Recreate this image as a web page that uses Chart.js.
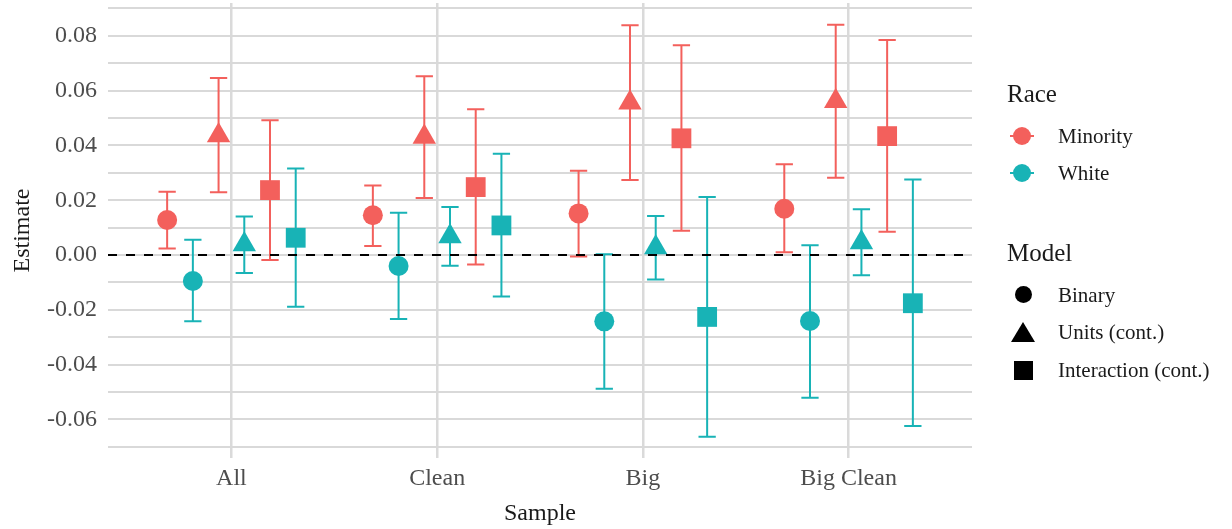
<!DOCTYPE html>
<html>
<head>
<meta charset="utf-8">
<script src="https://cdn.jsdelivr.net/npm/chart.js@4.4.1/dist/chart.umd.min.js"></script>
<style>
  body { margin: 0; background: #fff; }
  #wrap { position: relative; width: 1232px; height: 529px; font-family: 'Liberation Serif', serif; }
  #legend { position: absolute; left: 1005px; top: 0; width: 227px; color: #1a1a1a; }
  .ltitle { position: absolute; left: 2px; font-size: 25px; line-height: 25px; }
  .litem { position: absolute; left: 0; height: 30px; width: 225px; }
  .litem span { position: absolute; left: 53px; top: 0; font-size: 21px; line-height: 30px; white-space: nowrap; }
  .sym { position: absolute; }
  .bar { position: absolute; left: 5px; top: 14px; width: 24px; height: 2px; }
  .dot { position: absolute; left: 8px; top: 6px; width: 18px; height: 18px; border-radius: 50%; }
</style>
</head>
<body>
<div id="wrap">
  <canvas id="myChart" width="1232" height="529"></canvas>
  <div id="legend">
    <div class="ltitle" style="top:81px">Race</div>
    <div class="litem" style="top:121px"><div class="bar" style="background:#f3605c"></div><div class="dot" style="background:#f3605c"></div><span>Minority</span></div>
    <div class="litem" style="top:158px"><div class="bar" style="background:#18b3b6"></div><div class="dot" style="background:#18b3b6"></div><span>White</span></div>
    <div class="ltitle" style="top:240px">Model</div>
    <div class="litem" style="top:280px"><div class="dot" style="background:#000;left:10px;width:17px;height:17px"></div><span>Binary</span></div>
    <div class="litem" style="top:317px"><div class="sym" style="left:6px;top:5px;width:0;height:0;border-left:12px solid transparent;border-right:12px solid transparent;border-bottom:20px solid #000"></div><span>Units (cont.)</span></div>
    <div class="litem" style="top:355px"><div class="sym" style="left:9px;top:6px;width:19px;height:19px;background:#000"></div><span>Interaction (cont.)</span></div>
  </div>
</div>
<script>
// samples on the x axis
var samples = ['All', 'Clean', 'Big', 'Big Clean'];

// estimates and 95% intervals, one array per race x model
var minorityBinary   = [0.0128, 0.0145, 0.0152, 0.0169];
var minorityBinaryLo = [0.0024, 0.0033, -0.0005, 0.0010];
var minorityBinaryHi = [0.0231, 0.0254, 0.0308, 0.0331];

var whiteBinary   = [-0.0095, -0.0040, -0.0242, -0.0241];
var whiteBinaryLo = [-0.0242, -0.0234, -0.0488, -0.0521];
var whiteBinaryHi = [0.0056, 0.0154, 0.0003, 0.0036];

var minorityUnits   = [0.0436, 0.0431, 0.0556, 0.0561];
var minorityUnitsLo = [0.0229, 0.0208, 0.0274, 0.0282];
var minorityUnitsHi = [0.0646, 0.0653, 0.0839, 0.0841];

var whiteUnits   = [0.0038, 0.0068, 0.0027, 0.0046];
var whiteUnitsLo = [-0.0066, -0.0039, -0.0089, -0.0074];
var whiteUnitsHi = [0.0141, 0.0175, 0.0142, 0.0167];

var minorityInteraction   = [0.0237, 0.0248, 0.0426, 0.0434];
var minorityInteractionLo = [-0.0018, -0.0035, 0.0089, 0.0085];
var minorityInteractionHi = [0.0492, 0.0532, 0.0766, 0.0785];

var whiteInteraction   = [0.0063, 0.0108, -0.0226, -0.0176];
var whiteInteractionLo = [-0.0189, -0.0151, -0.0663, -0.0624];
var whiteInteractionHi = [0.0316, 0.0370, 0.0212, 0.0276];

// y tick values (labels only on the even ones)
var yTicks = [-0.07, -0.06, -0.05, -0.04, -0.03, -0.02, -0.01, 0, 0.01, 0.02, 0.03, 0.04, 0.05, 0.06, 0.07, 0.08, 0.09];

var red = '#f3605c';
var teal = '#18b3b6';

function series(vals, lo, hi, offset, color, shape, radius) {
    return {
        type: 'scatter',
        data: vals.map(function(v, i) { return { x: i + 1 + offset, y: v }; }),
        lo: lo,
        hi: hi,
        backgroundColor: color,
        borderWidth: 0,
        pointStyle: shape,
        pointRadius: radius,
        order: 1
    };
}

// draw the error bars under the points
var errorBars = {
    id: 'errorBars',
    beforeDatasetsDraw: function(chart) {
        var ctx = chart.ctx;
        var x = chart.scales.x, y = chart.scales.y;
        chart.data.datasets.forEach(function(ds) {
            if (!ds.lo) return;
            ctx.save();
            ctx.strokeStyle = ds.backgroundColor;
            ctx.lineWidth = 2;
            ds.data.forEach(function(p, i) {
                var px = x.getPixelForValue(p.x);
                var left = x.getPixelForValue(p.x - 0.042);
                var right = x.getPixelForValue(p.x + 0.042);
                var top = y.getPixelForValue(ds.hi[i]);
                var bot = y.getPixelForValue(ds.lo[i]);
                ctx.beginPath();
                ctx.moveTo(px, top); ctx.lineTo(px, bot);
                ctx.moveTo(left, top); ctx.lineTo(right, top);
                ctx.moveTo(left, bot); ctx.lineTo(right, bot);
                ctx.stroke();
            });
            ctx.restore();
        });
    }
};

var ctx = document.getElementById('myChart').getContext('2d');
var myChart = new Chart(ctx, {
    type: 'scatter',
    data: {
        datasets: [
            series(minorityBinary, minorityBinaryLo, minorityBinaryHi, -0.3125, red, 'circle', 10),
            series(whiteBinary, whiteBinaryLo, whiteBinaryHi, -0.1875, teal, 'circle', 10),
            series(minorityUnits, minorityUnitsLo, minorityUnitsHi, -0.0625, red, 'triangle', 13.5),
            series(whiteUnits, whiteUnitsLo, whiteUnitsHi, 0.0625, teal, 'triangle', 13.5),
            series(minorityInteraction, minorityInteractionLo, minorityInteractionHi, 0.1875, red, 'rect', 14),
            series(whiteInteraction, whiteInteractionLo, whiteInteractionHi, 0.3125, teal, 'rect', 14),
            {
                type: 'line',
                data: [{ x: 0.4, y: 0 }, { x: 4.6, y: 0 }],
                borderColor: '#000',
                borderWidth: 2,
                borderDash: [9, 9],
                pointRadius: 0,
                order: 0
            }
        ]
    },
    options: {
        responsive: false,
        animation: false,
        layout: { autoPadding: false, padding: { left: 0, right: 260, top: 3, bottom: 0 } },
        plugins: {
            legend: { display: false },
            tooltip: { enabled: false }
        },
        scales: {
            x: {
                type: 'linear',
                min: 0.4,
                max: 4.6,
                afterBuildTicks: function(scale) {
                    scale.ticks = samples.map(function(s, i) { return { value: i + 1 }; });
                },
                afterFit: function(scale) {
                    scale.height = 71;
                    scale.paddingLeft = 0;
                    scale.paddingRight = 0;
                },
                ticks: {
                    autoSkip: false,
                    maxRotation: 0,
                    padding: 6,
                    color: '#4d4d4d',
                    font: { family: 'Liberation Serif', size: 24 },
                    callback: function(v) { return samples[Math.round(v) - 1]; }
                },
                grid: { color: '#dadada', lineWidth: 2.5, drawTicks: false },
                border: { display: false },
                title: {
                    display: true,
                    text: 'Sample',
                    color: '#1a1a1a',
                    font: { family: 'Liberation Serif', size: 24 },
                    padding: { top: 0, bottom: 1 }
                }
            },
            y: {
                min: -0.0741,
                max: 0.092,
                afterBuildTicks: function(scale) {
                    scale.ticks = yTicks.map(function(v) { return { value: v }; });
                },
                afterFit: function(scale) {
                    scale.width = 108;
                    scale.paddingTop = 0;
                    scale.paddingBottom = 0;
                },
                ticks: {
                    autoSkip: false,
                    padding: 11,
                    color: '#4d4d4d',
                    font: { family: 'Liberation Serif', size: 24 },
                    callback: function(v) {
                        var k = Math.round(v * 100);
                        return k % 2 === 0 ? (k / 100).toFixed(2) : '';
                    }
                },
                grid: { color: '#d9d9d9', lineWidth: 2, drawTicks: false },
                border: { display: false },
                title: {
                    display: true,
                    text: 'Estimate',
                    color: '#1a1a1a',
                    font: { family: 'Liberation Serif', size: 24 },
                    padding: { top: 8, bottom: 0 }
                }
            }
        }
    },
    plugins: [errorBars]
});
</script>
</body>
</html>
